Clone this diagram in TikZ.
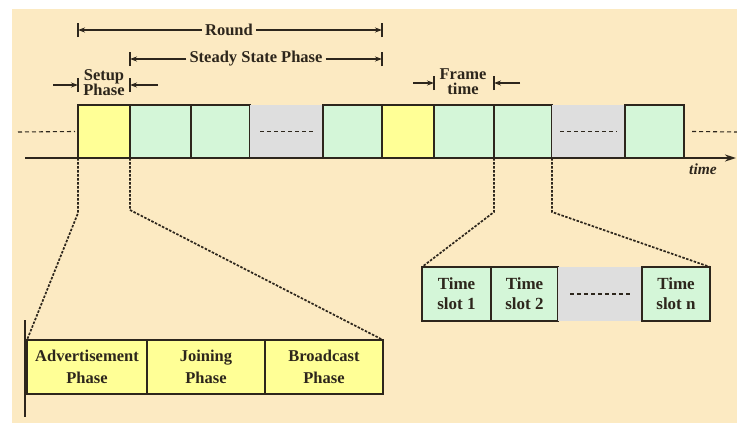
\documentclass[tikz,border=0pt]{standalone}
\usepackage{fontspec}
\setmainfont{Liberation Serif}
\usetikzlibrary{arrows.meta}
\definecolor{bg}{RGB}{252,234,194}
\definecolor{yel}{RGB}{255,255,150}
\definecolor{grn}{RGB}{212,246,216}
\definecolor{gry}{RGB}{222,222,222}
\definecolor{ink}{RGB}{45,38,28}
\begin{document}
\begin{tikzpicture}[x=1pt,y=-1pt,
  lbl/.style={text=ink, font=\fontsize{16.5}{19}\selectfont\bfseries, align=center, inner sep=3pt},
  tight/.style={font=\fontsize{16.5}{15}\selectfont\bfseries},
  slot/.style={draw=ink, line width=1.5pt, inner sep=0pt, outer sep=0pt, anchor=north west, minimum height=53pt},
  lowbox/.style={slot, minimum height=54pt, font=\fontsize{16.5}{22}\selectfont\bfseries},
  tsbox/.style={slot, minimum height=54pt, font=\fontsize{17}{20}\selectfont\bfseries},
  dimarr/.style={draw=ink, line width=1.3pt, -{Stealth[length=7pt,width=5pt]}},
  tickmark/.style={draw=ink, line width=1.3pt},
  lead/.style={draw=ink, line width=1.7pt, dash pattern=on 2.5pt off 1.5pt},
  filler/.style={draw=ink, line width=1.1pt, dash pattern=on 4pt off 3pt}]
\useasboundingbox (0,0) rectangle (737,423);
\fill[bg] (12,9) rectangle (737,423);

% top row of boxes
\node[slot, fill=yel, minimum width=52pt] (b1) at (78,105) {};
\node[slot, fill=grn, minimum width=61pt] (b2) at (130,105) {};
\node[slot, fill=grn, minimum width=59pt] (b3) at (191,105) {};
\node[slot, fill=gry, draw=none, minimum width=73pt] (g1) at (250,105) {};
\node[slot, fill=grn, minimum width=59pt] (b4) at (323,105) {};
\node[slot, fill=yel, minimum width=52pt] (b5) at (382,105) {};
\node[slot, fill=grn, minimum width=60pt] (b6) at (434,105) {};
\node[slot, fill=grn, minimum width=58pt] (b7) at (494,105) {};
\node[slot, fill=gry, draw=none, minimum width=73pt] (g2) at (552,105) {};
\node[slot, fill=grn, minimum width=59pt] (b8) at (625,105) {};

\coordinate (ld) at (18,132);
\coordinate (rd) at (737,132);
\draw[filler] (ld) -- ([xshift=-3pt]b1.west);
\draw[filler] ([xshift=8pt]b8.east) -- (rd);
\draw[filler] ([xshift=10pt]g1.west) -- ([xshift=-8pt]g1.east);
\draw[filler] ([xshift=8pt]g2.west) -- ([xshift=-8pt]g2.east);

% time axis
\coordinate (ax0) at (25,158);
\coordinate (ax1) at (736,158);
\draw[ink, line width=1.9pt, -{Stealth[length=11pt,width=7pt]}] (ax0) -- (ax1);
\node[text=ink, font=\fontsize{15.5}{17}\selectfont\bfseries\itshape] (tlabel) at (703,169) {time};

% Round
\node[lbl] (round) at (229,30) {Round};
\coordinate (rL) at (78,30);
\coordinate (rR) at (382,30);
\draw[dimarr] (round) -- (rL);
\draw[dimarr] (round) -- (rR);
\draw[tickmark] ([yshift=-7pt]rL) -- ([yshift=7pt]rL);
\draw[tickmark] ([yshift=-7pt]rR) -- ([yshift=7pt]rR);

% Steady State Phase
\node[lbl] (ssp) at (256,59) {Steady State Phase};
\coordinate (sL) at (130,59);
\coordinate (sR) at (382,59);
\draw[dimarr] (ssp) -- (sL);
\draw[dimarr] (ssp) -- (sR);
\draw[tickmark] ([yshift=-7pt]sL) -- ([yshift=7pt]sL);
\draw[tickmark] ([yshift=-7pt]sR) -- ([yshift=7pt]sR);

% Setup Phase
\node[lbl, tight, inner sep=1pt] (setup) at (104,83) {Setup\\Phase};
\coordinate (suL) at (78,85);
\coordinate (suR) at (130,85);
\coordinate (suLo) at (53,85);
\coordinate (suRo) at (158,85);
\draw[dimarr] (suLo) -- (suL);
\draw[dimarr] (suRo) -- (suR);
\draw[tickmark] ([yshift=-7pt]suL) -- ([yshift=7pt]suL);
\draw[tickmark] ([yshift=-7pt]suR) -- ([yshift=7pt]suR);

% Frame time
\node[lbl, tight, inner sep=1pt] (frame) at (463,82) {Frame\\time};
\coordinate (ftL) at (434,83);
\coordinate (ftR) at (494,83);
\coordinate (ftLo) at (413,83);
\coordinate (ftRo) at (520,83);
\draw[dimarr] (ftLo) -- (ftL);
\draw[dimarr] (ftRo) -- (ftR);
\draw[tickmark] ([yshift=-7pt]ftL) -- ([yshift=7pt]ftL);
\draw[tickmark] ([yshift=-7pt]ftR) -- ([yshift=7pt]ftR);

% setup phase detail
\node[lowbox, fill=yel, minimum width=120pt, text=ink, align=center] (adv) at (27,340) {Advertisement\\Phase};
\node[lowbox, fill=yel, minimum width=118pt, text=ink, align=center] (join) at (147,340) {Joining\\Phase};
\node[lowbox, fill=yel, minimum width=118pt, text=ink, align=center] (bcast) at (265,340) {Broadcast\\Phase};
\coordinate (vt) at (25,320);
\coordinate (vb) at (25,417);
\draw[ink, line width=2.6pt] (vt) -- (vb);

% frame detail
\node[tsbox, fill=grn, minimum width=69pt, text=ink, align=center] (ts1) at (422,267) {Time\\slot 1};
\node[tsbox, fill=grn, minimum width=67pt, text=ink, align=center] (ts2) at (491,267) {Time\\slot 2};
\node[tsbox, fill=gry, draw=none, minimum width=84pt] (gs) at (558,267) {};
\node[tsbox, fill=grn, minimum width=68pt, text=ink, align=center] (tsn) at (642,267) {Time\\slot n};
\draw[filler] ([xshift=12pt]gs.west) -- ([xshift=-12pt]gs.east);

% leader lines
\draw[lead] (b1.south west) -- ++(0,55) -- (adv.north west);
\draw[lead] (b1.south east) -- ++(0,52) -- (bcast.north east);
\draw[lead] (b7.south west) -- ++(0,54) -- (ts1.north west);
\draw[lead] (b7.south east) -- ++(0,54) -- (tsn.north east);
\end{tikzpicture}
\end{document}
